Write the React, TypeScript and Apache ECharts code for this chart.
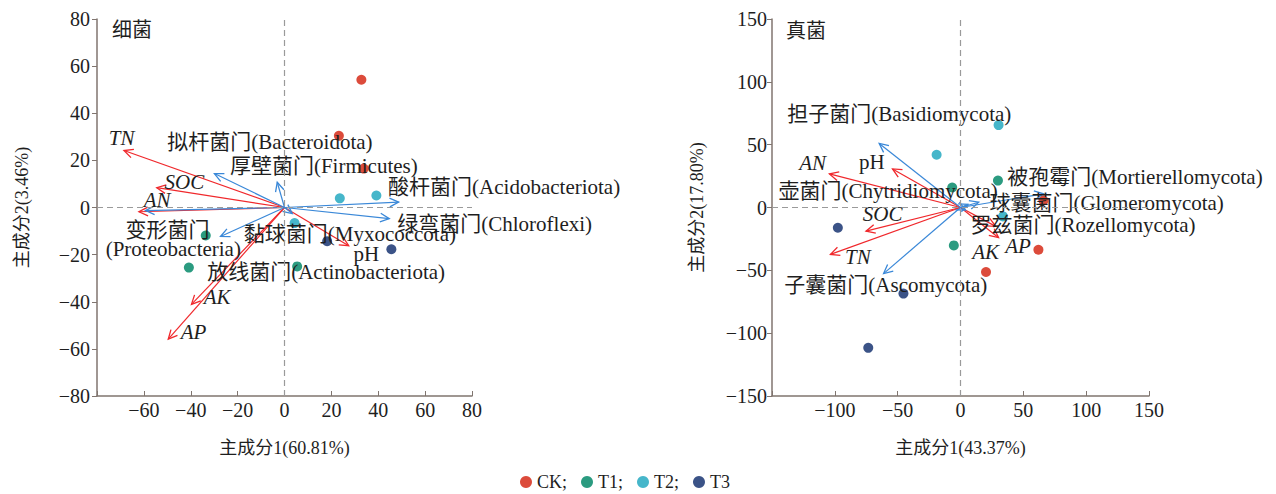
import React, { useEffect, useRef } from "react";
import * as echarts from "echarts";

const FONT = "'Liberation Serif', 'Times New Roman', 'Noto Sans CJK SC', serif";
const TEXT = "#1e1e1e";
const RED = "#f0282c";
const BLUE = "#3a88d8";
const GROUP_COLORS = ["#dc4b3b", "#2b9b80", "#46b6ca", "#3b5387"];
const GROUPS = ["CK", "T1", "T2", "T3"];

// ---------- Bacteria (left) ----------
const bacCK = [[32.8, 54.2], [23.2, 30.4], [33.8, 16.5]];
const bacT1 = [[-33.6, -11.9], [-40.8, -25.5], [5.4, -25]];
const bacT2 = [[23.6, 3.9], [39.2, 5.1], [4.3, -6.6]];
const bacT3 = [[18.2, -14.3], [45.6, -17.7]];
const bacEnvNames = ["TN", "SOC", "AN", "AK", "AP", "pH"];
const bacEnvTips = [[-68.5, 24.2], [-54.5, 8.4], [-62.1, -1.8], [-39.7, -41.1], [-49.6, -55.9], [27.4, -16.2]];
const bacPhylaNames = ["Bacteroidota", "Firmicutes", "Acidobacteriota", "Chloroflexi", "Myxococcota", "Proteobacteria", "Actinobacteriota"];
const bacPhylaTips = [[-29.9, 14.4], [-3.1, 10.7], [48.7, 2.3], [44.7, -4.7], [3.3, -2.6], [-59.3, -1.3], [-27.3, -12.3]];
const bacLabelTexts = ["拟杆菌门(Bacteroidota)", "厚壁菌门(Firmicutes)", "酸杆菌门(Acidobacteriota)", "绿弯菌门(Chloroflexi)", "黏球菌门(Myxococcota)", "变形菌门", "(Proteobacteria)", "放线菌门(Actinobacteriota)", "pH"];
const bacLabelPos = [[-50, 27.7], [-23.3, 17.8], [44.2, 8.6], [48.1, -7.2], [-17.4, -11.1], [-67.8, -9.4], [-76.3, -17.5], [-33, -27.4], [29.4, -19.6]];
const bacItalicTexts = ["TN", "SOC", "AN", "AK", "AP"];
const bacItalicPos = [[-75, 29.7], [-51.2, 10.7], [-60.1, 3], [-34.5, -38], [-44.3, -52.8]];

// ---------- Fungi (right) ----------
const funCK = [[62, -33.6], [20.3, -51.3], [66, 5.6]];
const funT1 = [[-6.6, 15.9], [29.8, 21.4], [-5.3, -30.2]];
const funT2 = [[30.3, 65.6], [-19, 42], [33.8, -7.1]];
const funT3 = [[-97.6, -16.1], [-45.4, -68.5], [-73.4, -111.7]];
const funEnvNames = ["AN", "pH", "SOC", "TN", "AK", "AP"];
const funEnvTips = [[-104.3, 26.7], [-54.1, 30.7], [-75.2, -18.8], [-103.5, -37.3], [30.3, -24], [28, -15]];
const funPhylaNames = ["Basidiomycota", "Ascomycota", "Glomeromycota", "Mortierellomycota", "Chytridiomycota", "Rozellomycota"];
const funPhylaTips = [[-64.7, 51], [-61.2, -52.6], [66, 10.9], [14.5, 4.2], [6, 2.5], [4, -2]];
const funLabelTexts = ["担子菌门(Basidiomycota)", "被孢霉门(Mortierellomycota)", "壶菌门(Chytridiomycota)", "球囊菌门(Glomeromycota)", "罗兹菌门(Rozellomycota)", "子囊菌门(Ascomycota)", "pH"];
const funLabelPos = [[-137.8, 74.6], [37.2, 24.6], [-144.9, 13.5], [23, 3.2], [7.9, -14.3], [-140.2, -61.9], [-80.8, 36]];
const funItalicTexts = ["AN", "SOC", "TN", "AK", "AP"];
const funItalicPos = [[-128.3, 35.7], [-77.8, -4.8], [-91.9, -39.4], [9.3, -35.5], [35.6, -30.7]];

function arrowRender(color: string) {
  return (params: any, api: any) => {
    const o = api.coord([0, 0]);
    const p = api.coord([api.value(0), api.value(1)]);
    const ang = Math.atan2(p[1] - o[1], p[0] - o[0]);
    const L = 10;
    const A = Math.PI / 7;
    const a1 = [p[0] - L * Math.cos(ang - A), p[1] - L * Math.sin(ang - A)];
    const a2 = [p[0] - L * Math.cos(ang + A), p[1] - L * Math.sin(ang + A)];
    return {
      type: "group",
      children: [
        { type: "line", shape: { x1: o[0], y1: o[1], x2: p[0], y2: p[1] }, style: { stroke: color, lineWidth: 1.2 } },
        { type: "polyline", shape: { points: [a1, p, a2] }, style: { stroke: color, fill: "none", lineWidth: 1.3 } },
      ],
    };
  };
}

function labelRender(texts: string[], italic: boolean) {
  return (params: any, api: any) => {
    const p = api.coord([api.value(0), api.value(1)]);
    return {
      type: "text",
      x: p[0],
      y: p[1],
      style: {
        text: texts[params.dataIndex],
        fontSize: 21,
        fontFamily: FONT,
        fontStyle: italic ? "italic" : "normal",
        fill: TEXT,
        align: "left",
        verticalAlign: "middle",
      },
    };
  };
}

function fmt(min: number) {
  return (v: number) => (v === min ? "" : v < 0 ? "\u2212" + Math.abs(v) : String(v));
}

function axisCommon() {
  return {
    axisLine: { onZero: false, lineStyle: { color: "#80756f", width: 1.5 } },
    splitLine: { show: false },
    axisLabel: { color: TEXT, fontSize: 20, fontFamily: FONT },
    nameTextStyle: { color: TEXT, fontSize: 18, fontFamily: FONT },
  };
}

export default function App() {
  const ref = useRef<HTMLDivElement>(null);
  useEffect(() => {
    document.body.style.margin = "0";
    const chart = echarts.init(ref.current!, null, { renderer: "svg" });
    const zeroLine = {
      silent: true,
      symbol: "none",
      label: { show: false },
      lineStyle: { type: [6, 4], color: "#9a9a9a", width: 1.2 },
      data: [{ xAxis: 0 }, { yAxis: 0 }],
    };
    const scatterSets = [
      [bacCK, bacT1, bacT2, bacT3],
      [funCK, funT1, funT2, funT3],
    ];
    const series: any[] = [];
    scatterSets.forEach((sets, gi) => {
      sets.forEach((d, i) => {
        series.push({
          type: "scatter",
          name: GROUPS[i],
          xAxisIndex: gi,
          yAxisIndex: gi,
          data: d,
          symbolSize: 10,
          itemStyle: { color: GROUP_COLORS[i], opacity: 1 },
          markLine: i === 0 ? zeroLine : undefined,
          z: 2,
        });
      });
    });
    const arrowSets = [
      [bacEnvTips, RED, 0],
      [bacPhylaTips, BLUE, 0],
      [funEnvTips, RED, 1],
      [funPhylaTips, BLUE, 1],
    ] as any[];
    arrowSets.forEach(([d, c, gi]) => {
      series.push({
        type: "custom",
        xAxisIndex: gi,
        yAxisIndex: gi,
        data: d,
        renderItem: arrowRender(c),
        silent: true,
        z: 3,
      });
    });
    const labelSets = [
      [bacLabelPos, bacLabelTexts, false, 0],
      [bacItalicPos, bacItalicTexts, true, 0],
      [funLabelPos, funLabelTexts, false, 1],
      [funItalicPos, funItalicTexts, true, 1],
    ] as any[];
    labelSets.forEach(([d, t, it, gi]) => {
      series.push({
        type: "custom",
        xAxisIndex: gi,
        yAxisIndex: gi,
        data: d,
        renderItem: labelRender(t, it),
        silent: true,
        z: 4,
      });
    });

    chart.setOption({
      animation: false,
      backgroundColor: "#ffffff",
      title: [
        { text: "细菌", left: 112, top: 20, padding: 0, textStyle: { fontSize: 20, fontWeight: "normal", fontFamily: FONT, color: TEXT } },
        { text: "真菌", left: 786, top: 21, padding: 0, textStyle: { fontSize: 20, fontWeight: "normal", fontFamily: FONT, color: TEXT } },
      ],
      legend: {
        data: GROUPS,
        left: 520,
        top: 473,
        icon: "circle",
        itemWidth: 12,
        itemHeight: 12,
        itemGap: 14,
        padding: 0,
        formatter: (n: string) => (n === "T3" ? n : n + ";"),
        textStyle: { fontSize: 18, fontFamily: FONT, color: TEXT },
      },
      grid: [
        { left: 97, top: 19, width: 375, height: 377 },
        { left: 772, top: 19, width: 377, height: 377 },
      ],
      xAxis: [
        {
          ...axisCommon(),
          gridIndex: 0,
          type: "value",
          min: -80,
          max: 80,
          interval: 20,
          name: "主成分1(60.81%)",
          nameLocation: "middle",
          nameGap: 43,
          axisTick: { inside: true, length: 5, lineStyle: { color: "#80756f" } },
          axisLabel: { ...axisCommon().axisLabel, margin: 4, formatter: fmt(-80) },
        },
        {
          ...axisCommon(),
          gridIndex: 1,
          type: "value",
          min: -150,
          max: 150,
          interval: 50,
          name: "主成分1(43.37%)",
          nameLocation: "middle",
          nameGap: 43,
          axisTick: { inside: true, length: 5, lineStyle: { color: "#80756f" } },
          axisLabel: { ...axisCommon().axisLabel, margin: 4, formatter: fmt(-150) },
        },
      ],
      yAxis: [
        {
          ...axisCommon(),
          gridIndex: 0,
          type: "value",
          min: -80,
          max: 80,
          interval: 20,
          name: "主成分2(3.46%)",
          nameLocation: "middle",
          nameGap: 66,
          axisTick: { inside: false, length: 5, lineStyle: { color: "#80756f" } },
          axisLabel: { ...axisCommon().axisLabel, margin: 7, formatter: fmt(-9999) },
        },
        {
          ...axisCommon(),
          gridIndex: 1,
          type: "value",
          min: -150,
          max: 150,
          interval: 50,
          name: "主成分2(17.80%)",
          nameLocation: "middle",
          nameGap: 66,
          axisTick: { inside: false, length: 5, lineStyle: { color: "#80756f" } },
          axisLabel: { ...axisCommon().axisLabel, margin: 5, formatter: fmt(-9999) },
        },
      ],
      series,
    });
    return () => chart.dispose();
  }, []);
  return <div ref={ref} style={{ width: 1276, height: 494 }} />;
}
